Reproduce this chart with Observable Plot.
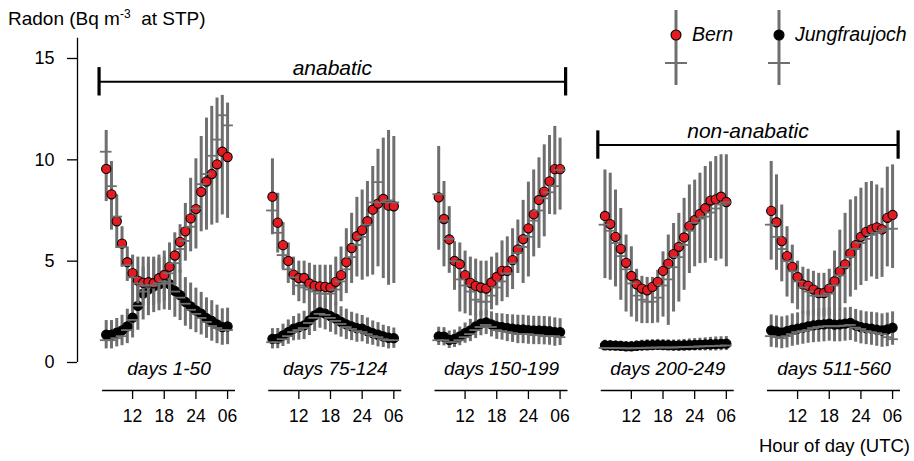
<!DOCTYPE html>
<html>
<head>
<meta charset="utf-8">
<script src="https://cdn.jsdelivr.net/npm/d3@7"></script>
<script src="https://cdn.jsdelivr.net/npm/@observablehq/plot@0.6"></script>
<style>
  body { margin: 0; background: #fff; }
  #chart { position: relative; width: 914px; height: 461px; font-family: "Liberation Sans", Arial, sans-serif; color: #000; }
  #chart > svg:first-child { position: absolute; left: 0; top: 0; }
  #title { position: absolute; left: 8px; top: 9px; font-size: 19px; line-height: 1; white-space: nowrap; }
  #title sup { font-size: 12px; vertical-align: 7px; line-height: 0; }
  #xlabel { position: absolute; right: 4px; top: 437px; font-size: 18.5px; line-height: 1; white-space: nowrap; }
  #legend { position: absolute; left: 0; top: 0; pointer-events: none; }
</style>
</head>
<body>
<div id="chart"></div>
<script>
// Hour of day (UTC) of each composite value: 07 through 06 of the next day
const hours = [7,8,9,10,11,12,13,14,15,16,17,18,19,20,21,22,23,24,25,26,27,28,29,30];
const hourTicks = [12, 18, 24, 30];
const hourTickLabels = ["12", "18", "24", "06"];
const yTicks = [0, 5, 10, 15];

const panelLabels = ["days 1-50", "days 75-124", "days 150-199", "days 200-249", "days 511-560"];
const regimes = ["anabatic", "non-anabatic"];
const regimeFirstPanel = [0, 3];
const regimeLastPanel = [2, 4];

const stations = ["Bern", "Jungfraujoch"];
const stationColors = ["#e31b23", "#000000"];

// Bern: mean, median and spread (low / high) per panel and hour
const bernMean = [
  [9.55,8.30,6.97,5.87,4.95,4.41,4.04,3.93,3.96,3.91,4.16,4.32,4.72,5.28,5.95,6.47,7.11,7.57,8.42,8.93,9.30,9.78,10.40,10.14],
  [8.18,6.90,5.79,5.01,4.34,4.17,4.17,3.90,3.78,3.76,3.73,3.70,3.98,4.31,4.95,5.65,6.23,6.53,6.97,7.54,7.84,8.07,7.74,7.71],
  [8.15,7.08,6.07,5.01,4.85,4.31,3.93,3.78,3.70,3.65,3.95,4.22,4.52,4.52,5.05,5.58,6.09,6.62,7.31,8.02,8.43,8.94,9.54,9.54],
  [7.23,6.83,6.20,5.61,4.92,4.27,3.86,3.65,3.56,3.73,3.98,4.52,4.88,5.35,5.71,6.17,6.73,7.03,7.33,7.61,7.99,8.05,8.18,7.92],
  [7.48,6.92,5.99,5.25,4.72,4.22,3.85,3.78,3.60,3.43,3.43,3.65,4.01,4.50,4.84,5.38,5.79,6.20,6.45,6.57,6.67,6.57,7.14,7.28]
];
const bernMedian = [
  [10.4,8.7,7.2,5.7,4.8,4.2,3.9,3.8,3.8,3.8,3.9,4.0,4.4,4.9,5.6,6.0,6.7,7.6,8.8,9.3,10.2,11.0,12.2,11.7],
  [7.5,6.4,5.3,4.6,4.2,3.8,3.7,3.6,3.5,3.4,3.4,3.4,3.6,4.0,4.6,5.2,5.8,6.2,6.8,7.9,8.9,7.9,8.0,7.9],
  [8.3,7.0,6.1,5.0,4.1,3.8,3.5,3.1,3.0,3.0,3.3,3.7,4.0,4.4,4.9,5.4,5.7,6.2,7.0,7.5,8.1,8.4,8.7,9.5],
  [6.8,6.5,5.9,5.25,4.6,3.9,3.3,3.1,3.0,3.0,3.2,3.8,4.1,4.7,5.2,5.8,6.5,6.9,7.1,7.2,7.4,7.6,7.8,7.9],
  [6.8,6.2,5.6,5.0,4.5,4.0,3.7,3.5,3.3,3.3,3.3,3.4,3.8,4.3,4.7,5.2,5.6,5.9,6.1,6.3,6.4,6.5,6.6,6.6]
];
const bernLow = [
  [7.94,6.53,5.63,4.7,4.0,3.2,2.9,2.8,2.8,2.8,2.9,3.0,3.3,3.8,4.4,5.0,5.46,5.6,6.45,6.53,6.78,6.87,7.28,7.11],
  [6.3,5.4,4.6,3.9,3.3,3.0,2.9,2.8,2.7,2.7,2.7,2.7,2.8,3.0,3.4,3.9,4.22,4.06,4.22,4.31,4.72,4.14,3.81,3.90],
  [5.54,4.72,4.4,3.56,2.49,2.4,2.3,2.3,2.3,2.3,2.6,2.8,3.0,3.2,3.6,4.39,3.9,4.22,5.21,5.63,6.2,7.3,7.28,7.52],
  [4.14,4.06,3.73,3.07,2.49,2.24,2.0,1.92,1.92,1.92,1.95,2.24,1.83,2.49,2.98,3.56,4.39,4.72,4.88,4.9,5.13,5.0,5.1,4.72],
  [5.05,4.55,3.98,3.23,2.9,2.6,2.4,2.3,2.3,2.25,2.25,2.3,2.6,2.6,2.9,3.23,3.56,3.8,4.0,4.22,4.1,4.2,4.72,4.64]
];
const bernHigh = [
  [11.45,9.92,8.27,6.7,5.7,5.3,5.2,5.2,5.2,5.2,5.3,5.5,5.9,6.4,6.8,7.85,9.09,10.05,11.15,12.06,12.64,13.05,13.18,12.8],
  [10.05,8.35,6.9,5.9,5.2,5.0,5.0,4.9,4.8,4.8,4.8,4.8,5.2,5.7,6.6,7.36,8.15,8.51,8.93,9.67,10.52,11.07,11.45,11.15],
  [10.66,8.93,7.69,5.96,5.9,5.5,5.2,5.1,5.0,5.0,5.2,5.4,6.0,6.2,6.6,7.03,8.0,8.9,9.5,10.1,10.74,11.2,11.65,11.07],
  [9.5,9.34,8.51,7.6,6.29,5.71,4.6,4.25,4.2,4.2,4.55,5.46,6.29,6.86,7.36,8.1,8.76,9.0,9.34,9.67,9.9,10.16,10.25,10.25],
  [9.92,9.26,7.77,6.7,5.79,5.0,4.7,4.6,4.5,4.4,4.4,4.6,5.5,6.53,7.36,8.02,8.18,8.6,8.88,8.93,8.76,8.6,9.64,9.75]
];

// Jungfraujoch: mean, median and spread (low / high) per panel and hour
const jungMean = [
  [1.37,1.37,1.47,1.58,1.78,2.21,2.79,3.40,3.61,3.76,3.85,3.90,3.87,3.53,3.32,2.99,2.77,2.57,2.41,2.19,2.05,1.88,1.75,1.78],
  [1.17,1.18,1.34,1.50,1.67,1.75,1.83,2.08,2.33,2.49,2.41,2.29,2.16,2.00,1.88,1.78,1.70,1.67,1.55,1.45,1.37,1.29,1.22,1.20],
  [1.29,1.27,1.12,1.17,1.29,1.45,1.58,1.78,1.92,1.98,1.88,1.78,1.75,1.70,1.67,1.63,1.63,1.60,1.58,1.58,1.57,1.55,1.50,1.50],
  [0.85,0.84,0.83,0.82,0.80,0.80,0.82,0.84,0.85,0.86,0.87,0.86,0.85,0.84,0.84,0.85,0.86,0.87,0.88,0.89,0.90,0.91,0.92,0.93],
  [1.58,1.53,1.47,1.55,1.62,1.67,1.72,1.78,1.83,1.87,1.88,1.92,1.87,1.88,1.92,1.95,1.83,1.75,1.70,1.67,1.62,1.58,1.63,1.72]
];
const jungMedian = [
  [1.1,1.1,1.2,1.3,1.6,2.1,2.8,3.5,3.7,3.9,3.9,3.9,3.9,3.5,3.2,2.9,2.6,2.4,2.2,2.0,1.8,1.7,1.6,1.6],
  [1.0,1.0,1.15,1.3,1.5,1.6,1.7,1.95,2.2,2.4,2.35,2.2,2.05,1.9,1.75,1.65,1.55,1.5,1.4,1.3,1.25,1.15,1.1,1.1],
  [1.1,1.1,1.0,1.0,1.1,1.25,1.4,1.6,1.75,1.85,1.75,1.6,1.55,1.5,1.45,1.4,1.4,1.4,1.35,1.35,1.3,1.3,1.3,1.25],
  [0.72,0.72,0.71,0.71,0.70,0.70,0.71,0.72,0.73,0.73,0.74,0.74,0.74,0.74,0.75,0.76,0.77,0.78,0.79,0.80,0.81,0.82,0.83,0.84],
  [1.3,1.25,1.2,1.3,1.4,1.5,1.55,1.6,1.7,1.75,1.78,1.8,1.78,1.8,1.82,1.85,1.72,1.65,1.55,1.5,1.45,1.4,1.25,1.15]
];
const jungLow = [
  [0.67,0.67,0.77,0.83,0.93,1.21,1.59,2.10,2.31,2.46,2.55,2.60,2.57,2.23,2.07,1.79,1.62,1.47,1.36,1.19,1.05,0.93,0.85,0.88],
  [0.67,0.68,0.79,0.90,1.07,1.10,1.13,1.33,1.53,1.69,1.61,1.49,1.36,1.25,1.13,1.08,1.00,1.02,0.90,0.85,0.77,0.74,0.67,0.70],
  [0.84,0.82,0.69,0.74,0.83,0.95,1.03,1.18,1.32,1.38,1.26,1.14,1.10,1.03,0.99,0.93,0.93,0.90,0.88,0.88,0.87,0.85,0.80,0.84],
  [0.62,0.61,0.60,0.60,0.58,0.58,0.59,0.60,0.60,0.60,0.61,0.60,0.59,0.58,0.57,0.57,0.57,0.57,0.57,0.57,0.57,0.57,0.58,0.59],
  [0.75,0.72,0.68,0.72,0.80,0.85,0.90,0.95,0.98,1.00,1.02,1.05,1.02,1.02,1.05,1.08,1.00,0.92,0.88,0.85,0.80,0.75,0.78,0.85]
];
const jungHigh = [
  [2.07,2.07,2.17,2.33,2.63,3.21,3.99,4.70,4.91,5.06,5.15,5.20,5.17,4.83,4.57,4.19,3.92,3.67,3.46,3.19,3.05,2.83,2.65,2.68],
  [1.67,1.68,1.89,2.10,2.27,2.40,2.53,2.83,3.13,3.29,3.21,3.09,2.96,2.75,2.63,2.48,2.40,2.32,2.20,2.05,1.97,1.84,1.77,1.70],
  [1.74,1.72,1.55,1.60,1.75,1.95,2.13,2.38,2.52,2.58,2.50,2.42,2.40,2.37,2.35,2.33,2.33,2.30,2.28,2.28,2.27,2.25,2.20,2.16],
  [1.10,1.08,1.06,1.05,1.03,1.04,1.07,1.10,1.12,1.13,1.14,1.13,1.12,1.11,1.12,1.14,1.16,1.18,1.20,1.22,1.24,1.26,1.27,1.28],
  [2.35,2.30,2.25,2.30,2.40,2.45,2.50,2.55,2.60,2.65,2.66,2.70,2.65,2.66,2.70,2.72,2.62,2.55,2.50,2.48,2.45,2.40,2.44,2.50]
];

// ---- layout: the panels share one hour axis, each shifted by a fixed span ----
const panelSpan = 31.5;          // hours of axis per panel, gap included
const hourStart = 6.3, hourEnd = 31.5;
const medianHalfWidth = 1.1;     // half length of the median dash, in hours
const axisGap = 28;              // px between y = 0 and the hour axes
const gray = "#6f6f6f";

const panels = panelLabels.map((label, p) => ({label, offset: p * panelSpan}));

function stationRows(mean, median, low, high) {
  return mean.flatMap((values, p) => hours.map((h, i) => ({
    x: panels[p].offset + h, mean: values[i], median: median[p][i], low: low[p][i], high: high[p][i]
  })));
}
const bern = stationRows(bernMean, bernMedian, bernLow, bernHigh);
const jung = stationRows(jungMean, jungMedian, jungLow, jungHigh);

const tickLabelAt = new Map();
const tickPositions = panels.flatMap(({offset}) => hourTicks.map((h, j) => {
  tickLabelAt.set(offset + h, hourTickLabels[j]);
  return offset + h;
}));

const regimeLevels = [13.85, 10.73];   // heights of the regime brackets
const regimeRows = regimes.map((label, k) => ({
  label,
  level: regimeLevels[k],
  x1: panels[regimeFirstPanel[k]].offset + 5.65,
  x2: panels[regimeLastPanel[k]].offset + 31.05
}));

function stationMarks(rows, color) {
  return [
    Plot.ruleX(rows, {x: "x", y1: "low", y2: "high", stroke: gray, strokeWidth: 3}),
    Plot.dot(rows, {x: "x", y: "mean", r: 4.6, fill: color, stroke: "#000", strokeWidth: 1.1}),
    Plot.ruleY(rows, {y: "median", x1: d => d.x - medianHalfWidth, x2: d => d.x + medianHalfWidth, stroke: gray, strokeWidth: 1.8})
  ];
}

const chart = Plot.plot({
  width: 914,
  height: 461,
  marginLeft: 102,
  marginRight: 14,
  marginTop: 58,
  marginBottom: 71,
  x: {domain: [hourStart, (panels.length - 1) * panelSpan + hourEnd]},
  y: {domain: [0, 15], insetBottom: axisGap},
  style: {fontFamily: "'Liberation Sans', Arial, sans-serif", fontSize: "18px", background: "transparent", color: "#000"},
  marks: [
    // radon axis
    Plot.ruleX([hourStart], {y1: 0, y2: 16, dx: -25, strokeWidth: 1.3}),
    Plot.axisY({ticks: yTicks, tickSize: 10, tickPadding: 13, dx: -25, label: null, fontSize: 18, strokeWidth: 1.3}),
    // one hour axis per panel
    Plot.ruleY(panels, {x1: d => d.offset + hourStart, x2: d => d.offset + hourEnd, y: 0, dy: axisGap, strokeWidth: 1.3}),
    Plot.axisX({ticks: tickPositions, tickFormat: v => tickLabelAt.get(v), tickSize: 9, tickPadding: 10, label: null, fontSize: 17.5, strokeWidth: 1.3}),
    // data
    ...stationMarks(jung, stationColors[1]),
    ...stationMarks(bern, stationColors[0]),
    // panel captions
    Plot.text(panels, {x: d => d.offset + (hourStart + hourEnd) / 2, y: 0, dy: 12, text: "label", lineAnchor: "bottom", fontStyle: "italic", fontSize: 19}),
    // regime brackets
    Plot.ruleY(regimeRows, {y: "level", x1: "x1", x2: "x2", strokeWidth: 2}),
    Plot.ruleX(regimeRows, {x: "x1", y1: d => d.level - 0.7, y2: d => d.level + 0.7, strokeWidth: 3.2}),
    Plot.ruleX(regimeRows, {x: "x2", y1: d => d.level - 0.7, y2: d => d.level + 0.7, strokeWidth: 3.2}),
    Plot.text(regimeRows, {x: d => (d.x1 + d.x2) / 2, y: "level", dy: -7, text: "label", lineAnchor: "bottom", fontStyle: "italic", fontSize: 21})
  ]
});

const root = document.getElementById("chart");
root.appendChild(chart);

const title = document.createElement("div");
title.id = "title";
title.innerHTML = "Radon (Bq m<sup>-3</sup>&nbsp; at STP)";
root.appendChild(title);

const xlabel = document.createElement("div");
xlabel.id = "xlabel";
xlabel.textContent = "Hour of day (UTC)";
root.appendChild(xlabel);

// legend: spread bar, mean dot and median dash for each station
const legendX = [676, 779];
const legend = d3.select(root).append("svg").attr("id", "legend").attr("width", 914).attr("height", 100);
const item = legend.selectAll("g").data(stations).join("g")
  .attr("transform", (d, i) => `translate(${legendX[i]},0)`);
item.append("line").attr("y1", 10).attr("y2", 85).attr("stroke", gray).attr("stroke-width", 3);
item.append("line").attr("x1", -11).attr("x2", 11).attr("y1", 63).attr("y2", 63).attr("stroke", gray).attr("stroke-width", 2);
item.append("circle").attr("cy", 35).attr("r", 5).attr("fill", (d, i) => stationColors[i]).attr("stroke", "#000").attr("stroke-width", 1.1);
item.append("text").attr("x", 16).attr("y", 41).attr("font-style", "italic").attr("font-size", 19.5)
  .attr("font-family", "'Liberation Sans', Arial, sans-serif").text(d => d);
</script>
</body>
</html>
